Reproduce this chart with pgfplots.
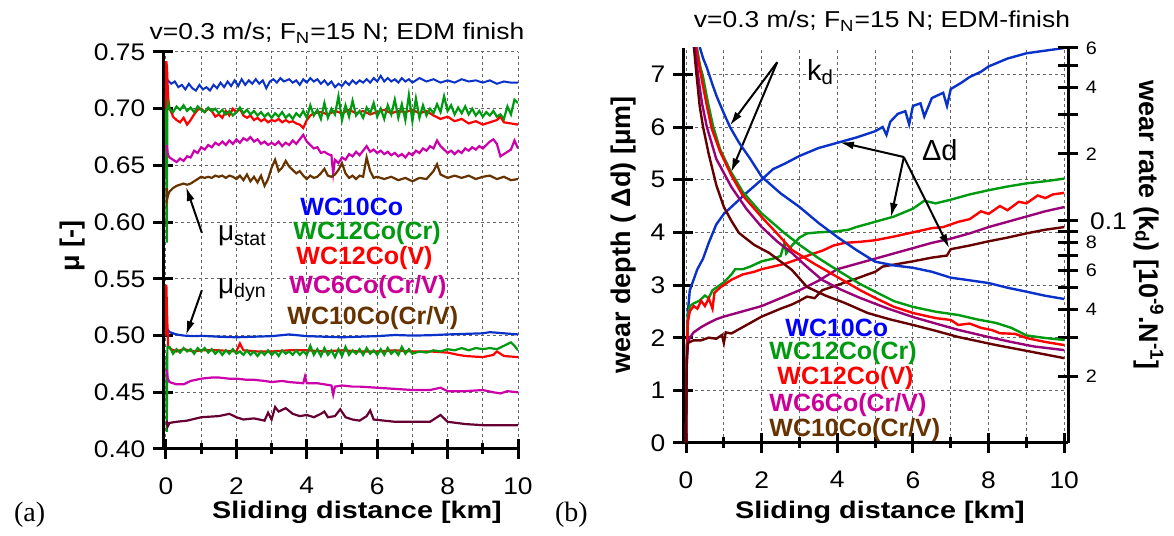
\documentclass[border=0pt]{standalone}
\usepackage{fontspec}
\setmainfont{Liberation Sans}
\newfontfamily\seriffont{Liberation Serif}
\usepackage{pgfplots}
\pgfplotsset{compat=1.18}
\usetikzlibrary{arrows.meta}
\definecolor{cblue}{HTML}{0A32C8}
\definecolor{cgreen}{HTML}{009A10}
\definecolor{cred}{HTML}{FF0000}
\definecolor{cmag}{HTML}{CC00AA}
\definecolor{cbrown}{HTML}{663300}
\definecolor{cmaroon}{HTML}{660033}
\definecolor{cpurple}{HTML}{990077}
\definecolor{cdbrown}{HTML}{660000}
\definecolor{tblue}{HTML}{0000FF}
\definecolor{tmag}{HTML}{CC0099}
\pgfplotsset{
 myax/.style={scale only axis,
  axis line style={line width=1.5pt,-},
  tick style={line width=1.5pt, black},
  tick align=center, major tick length=10pt, minor tick length=5.5pt,
  grid=both,
  grid style={dash pattern=on 1.5pt off 1.5pt, line width=0.5pt, black!60},
  minor grid style={dash pattern=on 1.5pt off 1.5pt, line width=0.5pt, black!60},
  tick label style={font=\fontsize{12}{12}\selectfont, xscale=1.1},
  /pgf/number format/assume math mode=true},
}
\begin{document}
\begin{tikzpicture}
\path[use as bounding box] (0,0) rectangle (587pt,268pt);
% ---------------- panel (a)
\begin{axis}[myax, at={(81.5pt,43.5pt)}, anchor=south west, width=177.5pt, height=198.5pt,
 xmin=-0.085, xmax=10, ymin=0.40, ymax=0.75,
 axis x line*=bottom, axis y line*=left,
 xtick={0,2,4,6,8,10}, minor xtick={1,3,5,7,9},
 xticklabel style={anchor=north, inner sep=0pt, yshift=-9pt},
 ytick={0.40,0.45,0.50,0.55,0.60,0.65,0.70,0.75},
 yticklabel style={/pgf/number format/.cd, fixed, fixed zerofill, precision=2},
 ]
% mu_stat
\addplot[cblue, line width=1pt] coordinates {(0.05,0.725)(0.15,0.722)(0.25,0.724)(0.35,0.719)(0.45,0.721)(0.55,0.717)(0.65,0.722)(0.75,0.718)(0.85,0.716)(0.95,0.721)(1.05,0.717)(1.15,0.719)(1.25,0.716)(1.35,0.721)(1.45,0.718)(1.55,0.723)(1.65,0.719)(1.75,0.724)(1.85,0.72)(1.95,0.725)(2.05,0.72)(2.15,0.726)(2.25,0.721)(2.35,0.725)(2.45,0.722)(2.55,0.726)(2.65,0.722)(2.75,0.725)(2.85,0.718)(2.95,0.724)(3.05,0.726)(3.15,0.723)(3.25,0.727)(3.35,0.724)(3.5,0.726)(3.6,0.723)(3.7,0.725)(3.8,0.721)(3.9,0.726)(4.0,0.723)(4.1,0.727)(4.2,0.724)(4.3,0.726)(4.4,0.722)(4.5,0.725)(4.6,0.721)(4.7,0.724)(4.8,0.719)(4.9,0.722)(5.0,0.72)(5.1,0.724)(5.2,0.721)(5.3,0.725)(5.4,0.722)(5.5,0.725)(5.6,0.723)(5.7,0.726)(5.8,0.723)(5.9,0.727)(6.0,0.724)(6.1,0.729)(6.2,0.724)(6.3,0.727)(6.4,0.724)(6.5,0.726)(6.6,0.723)(6.7,0.727)(6.8,0.724)(6.9,0.726)(7.0,0.723)(7.2,0.727)(7.4,0.724)(7.6,0.726)(7.8,0.723)(8.0,0.725)(8.2,0.723)(8.4,0.726)(8.6,0.724)(8.8,0.725)(9.0,0.723)(9.2,0.725)(9.4,0.722)(9.6,0.724)(9.8,0.723)(10,0.723)};
\addplot[cred, line width=1.1pt] coordinates {(0.0,0.70)(0.01,0.742)(0.03,0.735)(0.06,0.71)(0.1,0.70)(0.15,0.697)(0.2,0.693)(0.3,0.69)(0.4,0.688)(0.5,0.692)(0.6,0.686)(0.7,0.69)(0.8,0.695)(0.9,0.699)(1.0,0.70)(1.1,0.697)(1.2,0.70)(1.3,0.698)(1.4,0.693)(1.5,0.695)(1.6,0.692)(1.7,0.698)(1.8,0.694)(1.9,0.70)(2.0,0.697)(2.1,0.70)(2.2,0.694)(2.3,0.692)(2.4,0.694)(2.5,0.69)(2.6,0.692)(2.7,0.689)(2.8,0.691)(2.9,0.688)(3.0,0.69)(3.1,0.689)(3.2,0.691)(3.3,0.688)(3.4,0.69)(3.5,0.688)(3.6,0.689)(3.7,0.687)(3.8,0.686)(3.9,0.683)(4.0,0.69)(4.1,0.694)(4.2,0.696)(4.4,0.697)(4.6,0.695)(4.8,0.698)(5.0,0.696)(5.2,0.699)(5.4,0.696)(5.6,0.698)(5.8,0.695)(6.0,0.697)(6.2,0.699)(6.4,0.696)(6.6,0.698)(6.8,0.697)(7.0,0.699)(7.2,0.696)(7.4,0.698)(7.6,0.694)(7.8,0.691)(8.0,0.693)(8.2,0.689)(8.4,0.691)(8.6,0.687)(8.8,0.689)(9.0,0.686)(9.2,0.688)(9.4,0.69)(9.5,0.693)(9.6,0.688)(9.8,0.687)(10,0.686)};
\addplot[cgreen, line width=1.1pt] coordinates {(0.0,0.70)(0.02,0.582)(0.04,0.70)(0.06,0.705)(0.1,0.70)(0.2,0.697)(0.3,0.702)(0.4,0.699)(0.5,0.703)(0.6,0.698)(0.7,0.701)(0.8,0.697)(0.9,0.702)(1.0,0.699)(1.1,0.697)(1.2,0.701)(1.3,0.698)(1.4,0.700)(1.5,0.696)(1.6,0.699)(1.7,0.695)(1.8,0.698)(1.9,0.694)(2.0,0.697)(2.1,0.701)(2.2,0.696)(2.3,0.699)(2.4,0.695)(2.5,0.698)(2.6,0.694)(2.7,0.697)(2.8,0.693)(2.9,0.696)(3.0,0.692)(3.1,0.696)(3.2,0.693)(3.3,0.697)(3.4,0.692)(3.5,0.695)(3.6,0.691)(3.7,0.696)(3.8,0.693)(3.9,0.698)(4.0,0.692)(4.1,0.703)(4.2,0.694)(4.3,0.699)(4.4,0.691)(4.5,0.705)(4.6,0.692)(4.7,0.70)(4.8,0.695)(4.9,0.711)(5.0,0.69)(5.1,0.703)(5.2,0.693)(5.3,0.707)(5.4,0.694)(5.5,0.698)(5.6,0.692)(5.7,0.701)(5.8,0.696)(5.9,0.705)(6.0,0.693)(6.1,0.70)(6.2,0.691)(6.3,0.703)(6.4,0.695)(6.5,0.708)(6.6,0.692)(6.7,0.704)(6.8,0.69)(6.9,0.712)(7.0,0.689)(7.1,0.709)(7.2,0.692)(7.3,0.703)(7.4,0.694)(7.5,0.700)(7.6,0.696)(7.7,0.704)(7.8,0.697)(7.9,0.711)(8.0,0.698)(8.1,0.703)(8.2,0.695)(8.3,0.701)(8.4,0.696)(8.5,0.702)(8.6,0.695)(8.7,0.70)(8.8,0.694)(8.9,0.698)(9.0,0.693)(9.1,0.697)(9.2,0.694)(9.3,0.698)(9.4,0.693)(9.5,0.695)(9.6,0.691)(9.7,0.702)(9.8,0.695)(9.9,0.708)(10,0.705)};
\addplot[cmag, line width=1.1pt] coordinates {(0.02,0.668)(0.05,0.66)(0.1,0.657)(0.2,0.655)(0.3,0.653)(0.4,0.656)(0.5,0.654)(0.6,0.658)(0.7,0.657)(0.8,0.663)(0.9,0.661)(1.0,0.666)(1.1,0.664)(1.2,0.668)(1.3,0.666)(1.4,0.670)(1.5,0.668)(1.6,0.671)(1.7,0.668)(1.8,0.672)(1.9,0.669)(2.0,0.673)(2.1,0.670)(2.2,0.674)(2.3,0.672)(2.4,0.675)(2.5,0.671)(2.6,0.673)(2.7,0.669)(2.8,0.671)(2.9,0.668)(3.0,0.670)(3.1,0.668)(3.2,0.671)(3.3,0.667)(3.4,0.670)(3.5,0.668)(3.6,0.672)(3.7,0.669)(3.8,0.673)(3.9,0.677)(4.0,0.671)(4.1,0.668)(4.2,0.665)(4.3,0.666)(4.4,0.661)(4.5,0.662)(4.6,0.660)(4.7,0.659)(4.75,0.643)(4.8,0.655)(4.9,0.652)(5.0,0.657)(5.1,0.655)(5.2,0.660)(5.3,0.658)(5.4,0.662)(5.5,0.659)(5.6,0.663)(5.7,0.667)(5.8,0.662)(5.9,0.664)(6.0,0.661)(6.1,0.663)(6.2,0.660)(6.3,0.662)(6.4,0.659)(6.5,0.661)(6.6,0.658)(6.7,0.660)(6.8,0.657)(6.9,0.661)(7.0,0.659)(7.1,0.663)(7.2,0.661)(7.3,0.665)(7.4,0.663)(7.5,0.667)(7.6,0.665)(7.7,0.672)(7.8,0.667)(7.9,0.664)(8.0,0.661)(8.1,0.663)(8.2,0.66)(8.3,0.663)(8.4,0.661)(8.5,0.665)(8.6,0.663)(8.7,0.666)(8.8,0.664)(8.9,0.667)(9.0,0.665)(9.1,0.668)(9.2,0.671)(9.3,0.673)(9.4,0.669)(9.5,0.658)(9.6,0.66)(9.7,0.662)(9.8,0.664)(9.9,0.672)(10,0.665)};
\addplot[cbrown, line width=1.1pt] coordinates {(0.02,0.63)(0.03,0.62)(0.06,0.624)(0.1,0.627)(0.2,0.63)(0.3,0.632)(0.4,0.633)(0.5,0.634)(0.6,0.633)(0.7,0.634)(0.8,0.636)(0.9,0.638)(1.0,0.640)(1.1,0.639)(1.2,0.640)(1.3,0.639)(1.4,0.641)(1.5,0.640)(1.6,0.641)(1.7,0.639)(1.8,0.641)(1.9,0.64)(2.0,0.638)(2.1,0.641)(2.2,0.637)(2.3,0.642)(2.4,0.636)(2.5,0.64)(2.6,0.635)(2.7,0.641)(2.8,0.632)(2.9,0.638)(3.0,0.648)(3.1,0.655)(3.2,0.645)(3.3,0.648)(3.4,0.654)(3.5,0.649)(3.6,0.646)(3.7,0.643)(3.8,0.645)(3.9,0.641)(4.0,0.638)(4.1,0.641)(4.2,0.639)(4.3,0.640)(4.4,0.643)(4.5,0.647)(4.6,0.641)(4.7,0.640)(4.8,0.642)(4.9,0.646)(5.0,0.652)(5.1,0.643)(5.2,0.639)(5.3,0.641)(5.4,0.638)(5.5,0.641)(5.6,0.64)(5.7,0.657)(5.8,0.645)(5.9,0.639)(6.0,0.640)(6.2,0.638)(6.4,0.64)(6.6,0.637)(6.8,0.639)(7.0,0.636)(7.2,0.639)(7.4,0.638)(7.6,0.645)(7.7,0.651)(7.8,0.642)(8.0,0.639)(8.2,0.641)(8.4,0.639)(8.6,0.641)(8.8,0.638)(9.0,0.640)(9.2,0.641)(9.4,0.638)(9.6,0.640)(9.8,0.637)(10,0.638)};
% mu_dyn
\addplot[cblue, line width=1.1pt] coordinates {(0.01,0.51)(0.03,0.506)(0.1,0.503)(0.3,0.501)(0.5,0.500)(0.8,0.4995)(1.0,0.4998)(1.5,0.499)(2.0,0.4985)(2.5,0.499)(3.0,0.4995)(3.5,0.501)(4.0,0.4995)(4.5,0.499)(5.0,0.4985)(5.5,0.499)(6.0,0.4995)(6.5,0.5005)(7.0,0.500)(7.5,0.5003)(8.0,0.501)(8.5,0.5015)(9.0,0.502)(9.2,0.503)(9.6,0.502)(10,0.501)};
\addplot[cred, line width=1.1pt] coordinates {(0.005,0.50)(0.01,0.545)(0.03,0.52)(0.06,0.49)(0.15,0.488)(0.3,0.486)(0.5,0.488)(0.8,0.486)(1.0,0.487)(1.5,0.487)(2.0,0.486)(2.1,0.493)(2.2,0.487)(2.6,0.486)(3.0,0.486)(3.5,0.487)(4.0,0.487)(4.5,0.486)(5.0,0.487)(5.5,0.486)(6.0,0.486)(6.5,0.487)(7.0,0.486)(7.5,0.486)(8.0,0.485)(8.3,0.483)(8.5,0.482)(9.0,0.481)(9.3,0.483)(9.4,0.486)(9.6,0.482)(10,0.481)};
\addplot[cgreen, line width=1.1pt] coordinates {(0.01,0.48)(0.02,0.415)(0.04,0.49)(0.1,0.49)(0.2,0.484)(0.3,0.488)(0.4,0.485)(0.5,0.489)(0.6,0.486)(0.7,0.488)(0.8,0.484)(0.9,0.489)(1.0,0.486)(1.1,0.489)(1.2,0.485)(1.3,0.488)(1.4,0.484)(1.5,0.487)(1.6,0.483)(1.7,0.487)(1.8,0.484)(1.9,0.488)(2.0,0.484)(2.1,0.486)(2.2,0.483)(2.3,0.487)(2.4,0.483)(2.5,0.486)(2.6,0.482)(2.7,0.486)(2.8,0.483)(2.9,0.487)(3.0,0.483)(3.1,0.486)(3.2,0.482)(3.3,0.487)(3.4,0.484)(3.5,0.486)(3.6,0.483)(3.7,0.487)(3.8,0.483)(3.9,0.486)(4.0,0.483)(4.1,0.491)(4.2,0.483)(4.3,0.488)(4.4,0.482)(4.5,0.489)(4.6,0.483)(4.7,0.487)(4.8,0.481)(4.9,0.488)(5.0,0.482)(5.1,0.49)(5.2,0.483)(5.3,0.487)(5.4,0.484)(5.5,0.488)(5.6,0.483)(5.7,0.489)(5.8,0.484)(5.9,0.487)(6.0,0.483)(6.1,0.488)(6.2,0.483)(6.3,0.489)(6.4,0.484)(6.5,0.487)(6.6,0.483)(6.7,0.49)(6.8,0.484)(6.9,0.488)(7.0,0.484)(7.2,0.486)(7.4,0.485)(7.6,0.487)(7.8,0.486)(8.0,0.488)(8.2,0.487)(8.4,0.489)(8.6,0.487)(8.8,0.489)(9.0,0.488)(9.2,0.489)(9.4,0.488)(9.6,0.491)(9.8,0.494)(9.9,0.491)(10,0.487)};
\addplot[cmag, line width=1.1pt] coordinates {(0.02,0.47)(0.05,0.462)(0.1,0.459)(0.3,0.457)(0.5,0.457)(0.7,0.46)(1.0,0.462)(1.3,0.463)(1.5,0.463)(1.8,0.462)(2.0,0.462)(2.3,0.461)(2.5,0.461)(2.8,0.460)(3.0,0.459)(3.3,0.46)(3.5,0.459)(3.9,0.458)(3.95,0.464)(4.0,0.458)(4.3,0.458)(4.5,0.457)(4.7,0.456)(4.75,0.448)(4.8,0.455)(5.0,0.456)(5.3,0.455)(5.5,0.455)(6.0,0.454)(6.5,0.453)(7.0,0.452)(7.5,0.452)(7.8,0.454)(8.0,0.451)(8.5,0.451)(9.0,0.452)(9.3,0.45)(9.5,0.449)(9.7,0.451)(10,0.45)};
\addplot[cmaroon, line width=1.1pt] coordinates {(0.02,0.425)(0.05,0.42)(0.1,0.423)(0.3,0.424)(0.6,0.425)(1.0,0.428)(1.5,0.429)(1.8,0.431)(2.0,0.428)(2.2,0.426)(2.5,0.427)(2.8,0.425)(2.9,0.432)(3.0,0.426)(3.1,0.437)(3.2,0.433)(3.4,0.436)(3.6,0.431)(3.8,0.429)(4.0,0.43)(4.2,0.428)(4.4,0.431)(4.5,0.433)(4.6,0.428)(4.8,0.429)(4.95,0.435)(5.1,0.428)(5.3,0.426)(5.5,0.425)(5.7,0.429)(5.8,0.434)(5.9,0.426)(6.2,0.425)(6.5,0.424)(7.0,0.424)(7.5,0.424)(7.8,0.43)(8.0,0.424)(8.5,0.422)(9.0,0.421)(9.5,0.421)(10,0.421)};
\draw[line width=1pt, -{Latex[length=7pt,width=4pt]}] (axis cs:1.02,0.5905) -- (axis cs:0.57,0.631);
\draw[line width=1pt, -{Latex[length=7pt,width=4pt]}] (axis cs:1.02,0.540) -- (axis cs:0.57,0.5005);
\end{axis}
% ---------------- panel (b)
\begin{axis}[myax, at={(341.5pt,46.5pt)}, anchor=south west, width=192.5pt, height=197.5pt,
 xmin=-0.08, xmax=10.1, ymin=0, ymax=7.5,
 axis x line*=bottom, axis y line*=left,
 xticklabel style={anchor=north, inner sep=0pt, yshift=-9pt},
 xtick={0,2,4,6,8,10}, minor xtick={1,3,5,7,9}, ytick={0,1,2,3,4,5,6,7}]
\addplot[cblue, line width=1.2pt] coordinates {(0,0)(0.02,1.5)(0.05,2.5)(0.1,2.9)(0.2,3.1)(0.3,3.3)(0.45,3.5)(0.6,3.8)(0.8,4.15)(1.0,4.35)(1.3,4.55)(1.6,4.75)(2.0,5.0)(2.3,5.2)(2.6,5.3)(3.0,5.45)(3.5,5.6)(4.0,5.7)(4.5,5.8)(5.0,5.92)(5.2,6.0)(5.3,5.85)(5.4,6.1)(5.6,6.25)(5.8,6.3)(5.9,6.05)(6.0,6.4)(6.2,6.45)(6.3,6.2)(6.5,6.55)(6.8,6.65)(6.9,6.4)(7.0,6.72)(7.3,6.85)(7.5,6.95)(7.8,7.05)(8.0,7.15)(8.5,7.3)(9.0,7.4)(9.5,7.45)(10,7.5)};
\addplot[cgreen, line width=1.2pt] coordinates {(0,0)(0.02,1.8)(0.05,2.4)(0.1,2.6)(0.2,2.65)(0.35,2.7)(0.5,2.8)(0.6,2.75)(0.7,2.9)(0.8,2.95)(1.0,3.05)(1.2,3.2)(1.3,3.3)(1.5,3.3)(1.7,3.35)(2.0,3.45)(2.3,3.5)(2.5,3.55)(2.6,3.8)(2.65,3.6)(2.8,3.75)(3.0,3.9)(3.2,3.98)(3.5,4.0)(4.0,4.02)(4.3,4.05)(4.5,4.1)(5.0,4.2)(5.5,4.3)(6.0,4.45)(6.3,4.6)(6.6,4.55)(7.0,4.62)(7.5,4.72)(8.0,4.8)(8.5,4.87)(9.0,4.93)(9.5,4.97)(10,5.02)};
\addplot[cred, line width=1.2pt] coordinates {(0,0)(0.02,1.8)(0.05,2.3)(0.1,2.5)(0.2,2.6)(0.3,2.55)(0.4,2.7)(0.5,2.6)(0.6,2.75)(0.7,2.55)(0.75,2.85)(0.9,2.95)(1.0,3.0)(1.2,3.1)(1.5,3.2)(1.8,3.25)(2.0,3.3)(2.3,3.35)(2.6,3.4)(3.0,3.5)(3.3,3.58)(3.6,3.65)(3.9,3.75)(4.2,3.8)(4.6,3.82)(5.0,3.85)(5.5,3.92)(6.0,4.0)(6.5,4.08)(6.8,4.1)(7.2,4.2)(7.5,4.25)(7.8,4.4)(8.0,4.35)(8.3,4.5)(8.5,4.42)(8.8,4.58)(9.0,4.55)(9.3,4.7)(9.5,4.65)(9.7,4.72)(10,4.75)};
\addplot[cpurple, line width=1.2pt] coordinates {(0,0)(0.02,1.5)(0.05,1.9)(0.1,2.0)(0.2,2.1)(0.4,2.2)(0.6,2.28)(0.8,2.35)(1.0,2.4)(1.5,2.5)(2.0,2.6)(2.5,2.75)(3.0,2.9)(3.5,3.08)(4.0,3.3)(4.5,3.4)(5.0,3.5)(5.5,3.6)(6.0,3.7)(6.5,3.8)(7.0,3.88)(7.5,3.98)(8.0,4.1)(8.5,4.2)(9.0,4.3)(9.5,4.4)(10,4.48)};
\addplot[cdbrown, line width=1.2pt] coordinates {(0,0)(0.02,1.6)(0.05,1.9)(0.2,1.95)(0.4,1.95)(0.6,2.0)(0.8,1.98)(0.95,2.05)(1.0,1.9)(1.05,2.1)(1.2,2.08)(1.5,2.2)(2.0,2.4)(2.5,2.55)(2.8,2.63)(3.0,2.7)(3.2,2.78)(3.4,2.75)(3.6,2.9)(4.0,3.0)(4.5,3.12)(4.8,3.2)(5.0,3.25)(5.2,3.35)(5.6,3.4)(6.0,3.45)(6.5,3.52)(6.9,3.56)(7.0,3.68)(7.5,3.75)(8.0,3.83)(8.5,3.9)(9.0,3.98)(9.5,4.05)(10,4.1)};
\draw[line width=1pt, -{Latex[length=7pt,width=4pt]}] (axis cs:2.41,7.23) -- (axis cs:1.16,6.03);
\draw[line width=1pt, -{Latex[length=7pt,width=4pt]}] (axis cs:2.41,7.23) -- (axis cs:1.19,5.14);
\draw[line width=1pt, -{Latex[length=7pt,width=4pt]}] (axis cs:5.76,5.43) -- (axis cs:4.07,5.71);
\draw[line width=1pt, -{Latex[length=7pt,width=4pt]}] (axis cs:5.76,5.43) -- (axis cs:5.42,4.29);
\draw[line width=1pt, -{Latex[length=7pt,width=4pt]}] (axis cs:5.76,5.43) -- (axis cs:6.96,3.70);
\end{axis}
\begin{axis}[myax, grid=none, at={(341.5pt,46.5pt)}, anchor=south west, width=192.5pt, height=197.5pt,
 xmin=-0.08, xmax=10.1, ymode=log, ymin=0.01, ymax=0.6,
 axis x line=none, axis y line*=right, yminorticks=false,
 ytick={0.02,0.03,0.04,0.05,0.06,0.07,0.08,0.09,0.1,0.2,0.3,0.4,0.5,0.6},
 yticklabels={2,,4,,6,,8,,{\fontsize{12}{12}\selectfont\hspace{2pt}0.1},2,,4,,6},
 yticklabel style={font=\fontsize{9}{9}\selectfont}]
\addplot[cblue, line width=1.2pt] coordinates {(0.3,0.75)(0.37,0.6)(0.45,0.54)(0.55,0.49)(0.7,0.41)(0.82,0.36)(1.0,0.305)(1.16,0.265)(1.4,0.225)(1.7,0.19)(2.0,0.158)(2.5,0.133)(3.0,0.1155)(3.5,0.098)(4.0,0.0846)(4.5,0.074)(5.0,0.0655)(5.5,0.063)(6.0,0.0615)(6.5,0.059)(7.0,0.0555)(7.5,0.054)(8.0,0.0525)(8.5,0.050)(9.0,0.048)(9.5,0.046)(10,0.0445)};
\addplot[cgreen, line width=1.2pt] coordinates {(0.22,0.8)(0.29,0.6)(0.37,0.5)(0.45,0.444)(0.58,0.34)(0.72,0.265)(0.9,0.21)(1.19,0.166)(1.5,0.135)(2.0,0.108)(2.6,0.0882)(3.0,0.078)(3.5,0.068)(4.0,0.060)(4.6,0.052)(5.0,0.048)(5.5,0.0435)(6.0,0.041)(6.6,0.039)(7.2,0.0377)(7.7,0.036)(8.2,0.0347)(8.6,0.033)(9.0,0.0305)(9.5,0.0297)(10,0.0291)};
\addplot[cred, line width=1.2pt] coordinates {(0.2,0.8)(0.27,0.6)(0.35,0.5)(0.43,0.42)(0.55,0.33)(0.68,0.26)(0.9,0.205)(1.2,0.16)(1.5,0.13)(2.0,0.104)(2.4,0.088)(2.8,0.074)(3.4,0.064)(4.0,0.0559)(4.6,0.0488)(5.0,0.045)(5.5,0.041)(6.0,0.0385)(6.6,0.0365)(7.0,0.0358)(7.2,0.0340)(7.5,0.0345)(7.8,0.033)(8.1,0.0322)(8.3,0.0312)(8.7,0.031)(9.0,0.0297)(9.5,0.0285)(10,0.0276)};
\addplot[cpurple, line width=1.2pt] coordinates {(0.17,0.8)(0.24,0.6)(0.32,0.45)(0.42,0.34)(0.55,0.265)(0.8,0.19)(1.2,0.142)(1.6,0.113)(2.0,0.0939)(2.4,0.081)(2.8,0.0717)(3.2,0.062)(3.6,0.0542)(4.1,0.049)(4.6,0.045)(5.3,0.0405)(6.0,0.0369)(6.6,0.0345)(7.2,0.0323)(8.0,0.030)(8.6,0.0285)(9.2,0.0272)(10,0.0262)};
\addplot[cdbrown, line width=1.2pt] coordinates {(0.15,0.8)(0.21,0.6)(0.28,0.45)(0.36,0.33)(0.45,0.265)(0.6,0.2)(0.8,0.145)(1.0,0.1155)(1.2,0.1)(1.4,0.0882)(1.8,0.078)(2.2,0.0717)(2.8,0.0601)(3.2,0.0504)(3.7,0.046)(4.2,0.0427)(4.8,0.0385)(5.4,0.036)(6.0,0.034)(6.6,0.032)(7.2,0.030)(8.2,0.0276)(9.0,0.026)(10,0.0241)};
\end{axis}
% ---------------- texts (pixel coordinates)
\begin{scope}[shift={(0pt,268pt)}, x=0.5pt, y=-0.5pt]
\node[anchor=base, xscale=1.15, font=\fontsize{11.5}{12}\selectfont] at (337,40) {v=0.3 m/s; F\textsubscript{N}=15 N; EDM finish};
\node[anchor=base, xscale=1.15, font=\fontsize{11.5}{12}\selectfont] at (882,28) {v=0.3 m/s; F\textsubscript{N}=15 N; EDM-finish};
\node[anchor=base, inner sep=0pt, xscale=1.2, font=\bfseries\fontsize{12}{12}\selectfont] at (357,518) {Sliding distance [km]};
\node[anchor=base, inner sep=0pt, xscale=1.2, font=\bfseries\fontsize{12}{12}\selectfont] at (880,518) {Sliding distance [km]};
\node[rotate=90, font=\bfseries\fontsize{13.5}{13.5}\selectfont] at (73,246) {μ [-]};
\node[rotate=90, font=\bfseries\fontsize{13.5}{13.5}\selectfont] at (624,235) {wear depth ( Δd) [μm]};
\node[rotate=-90, font=\bfseries\fontsize{13.5}{13.5}\selectfont] at (1149,225) {wear rate (k\textsubscript{d}) [10\textsuperscript{-9}.N\textsuperscript{-1}]};
\node[anchor=west, font=\seriffont\fontsize{14}{14}\selectfont] at (7,515) {(a)};
\node[anchor=west, font=\seriffont\fontsize{14}{14}\selectfont] at (548,515) {(b)};
\node[anchor=west, font=\fontsize{14}{14}\selectfont] at (211,236) {μ\textsubscript{stat}};
\node[anchor=west, font=\fontsize{14}{14}\selectfont] at (211,290) {μ\textsubscript{dyn}};
\node[anchor=west, font=\fontsize{14.5}{14.5}\selectfont] at (800,72) {k\textsubscript{d}};
\node[anchor=west, font=\fontsize{14.5}{14.5}\selectfont] at (915,150) {Δd};
\begin{scope}[every node/.style={anchor=west, inner sep=0pt, font=\bfseries\fontsize{12.5}{12.5}\selectfont}]
\node[text=tblue] at (300,207) {WC10Co};
\node[text=cgreen] at (293,233) {WC12Co(Cr)};
\node[text=cred] at (296,258) {WC12Co(V)};
\node[text=tmag] at (289,287) {WC6Co(Cr/V)};
\node[text=cbrown] at (287,318) {WC10Co(Cr/V)};
\node[text=tblue] at (785,328) {WC10Co};
\node[text=cgreen] at (769,353) {WC12Co(Cr)};
\node[text=cred] at (777,378) {WC12Co(V)};
\node[text=tmag] at (769,405) {WC6Co(Cr/V)};
\node[text=cbrown] at (769,430) {WC10Co(Cr/V)};
\end{scope}
\end{scope}
\end{tikzpicture}
\end{document}
